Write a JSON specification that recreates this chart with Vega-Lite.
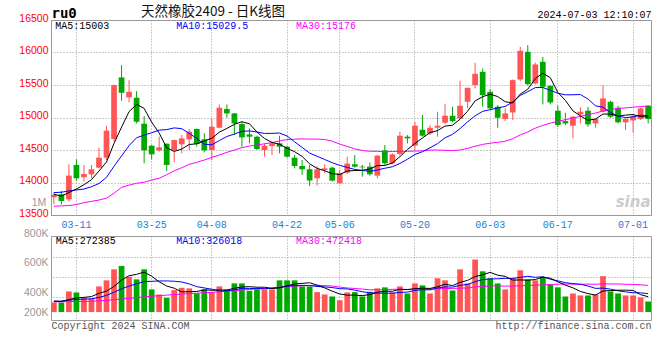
{
  "$schema": "https://vega.github.io/schema/vega-lite/v6.json",
  "background": "white",
  "padding": {"left": 18, "top": 4, "right": 5, "bottom": 5},
  "bounds": "flush",
  "spacing": 21,
  "config": {
    "view": {"stroke": "#999", "strokeWidth": 1},
    "font": "Liberation Sans",
    "axis": {"gridColor": "#999", "gridDash": [1, 2], "gridWidth": 1, "domain": false, "ticks": false, "titleFontWeight": "normal", "labelOverlap": false, "labelFlush": false, "labelBound": false}
  },
  "datasets": {
    "k": [
      {"d":"03-06","o":13773,"h":13845,"l":13665,"c":13809,"v":169000,"m5":13820,"m10":13845,"m30":13635,"v5":194000,"v10":190000,"v30":180000},
      {"d":"03-07","o":13819,"h":13870,"l":13665,"c":13716,"v":169000,"m5":13790,"m10":13850,"m30":13640,"v5":188000,"v10":194000,"v30":182000},
      {"d":"03-08","o":13742,"h":14280,"l":13706,"c":14106,"v":365000,"m5":13846,"m10":13870,"m30":13645,"v5":221000,"v10":210000,"v30":185000},
      {"d":"03-11","o":14270,"h":14356,"l":14029,"c":14065,"v":347000,"m5":13900,"m10":13885,"m30":13660,"v5":250000,"v10":222000,"v30":187000},
      {"d":"03-12","o":14080,"h":14270,"l":14014,"c":14131,"v":252000,"m5":13965,"m10":13900,"m30":13690,"v5":260000,"v10":230000,"v30":189000},
      {"d":"03-13","o":14126,"h":14270,"l":14065,"c":14203,"v":241000,"m5":14044,"m10":13935,"m30":13710,"v5":275000,"v10":234000,"v30":192000},
      {"d":"03-14","o":14228,"h":14536,"l":14218,"c":14382,"v":454000,"m5":14177,"m10":13985,"m30":13730,"v5":332000,"v10":259000,"v30":198000},
      {"d":"03-15","o":14382,"h":14874,"l":14346,"c":14797,"v":561000,"m5":14316,"m10":14080,"m30":13760,"v5":371000,"v10":295000,"v30":207000},
      {"d":"03-18","o":14669,"h":15508,"l":14628,"c":15498,"v":756000,"m5":14602,"m10":14250,"m30":13835,"v5":453000,"v10":351000,"v30":218000},
      {"d":"03-19","o":15616,"h":15805,"l":15258,"c":15380,"v":816000,"m5":14852,"m10":14409,"m30":13925,"v5":566000,"v10":413000,"v30":230000},
      {"d":"03-20","o":15309,"h":15575,"l":15232,"c":15396,"v":626000,"m5":15091,"m10":14567,"m30":13960,"v5":643000,"v10":459000,"v30":242000},
      {"d":"03-21","o":15304,"h":15406,"l":14909,"c":14935,"v":578000,"m5":15201,"m10":14689,"m30":13988,"v5":667000,"v10":500000,"v30":256000},
      {"d":"03-22","o":14904,"h":15022,"l":14295,"c":14495,"v":756000,"m5":15141,"m10":14728,"m30":14003,"v5":706000,"v10":539000,"v30":270000},
      {"d":"03-25","o":14566,"h":14577,"l":14356,"c":14433,"v":401000,"m5":14928,"m10":14765,"m30":14039,"v5":635000,"v10":544000,"v30":280000},
      {"d":"03-26","o":14495,"h":14705,"l":14474,"c":14541,"v":312000,"m5":14760,"m10":14806,"m30":14065,"v5":535000,"v10":550000,"v30":290000},
      {"d":"03-27","o":14597,"h":14600,"l":14177,"c":14270,"v":252000,"m5":14535,"m10":14813,"m30":14120,"v5":460000,"v10":551000,"v30":300000},
      {"d":"03-28","o":14500,"h":14660,"l":14310,"c":14653,"v":389000,"m5":14478,"m10":14840,"m30":14180,"v5":422000,"v10":545000,"v30":310000},
      {"d":"03-29","o":14587,"h":14730,"l":14449,"c":14679,"v":430000,"m5":14515,"m10":14828,"m30":14228,"v5":357000,"v10":532000,"v30":318000},
      {"d":"04-01","o":14664,"h":14823,"l":14500,"c":14782,"v":419000,"m5":14585,"m10":14756,"m30":14280,"v5":360000,"v10":498000,"v30":326000},
      {"d":"04-02","o":14823,"h":14830,"l":14551,"c":14592,"v":329000,"m5":14595,"m10":14678,"m30":14310,"v5":364000,"v10":449000,"v30":334000},
      {"d":"04-03","o":14664,"h":14756,"l":14464,"c":14495,"v":401000,"m5":14640,"m10":14588,"m30":14346,"v5":394000,"v10":427000,"v30":342000},
      {"d":"04-08","o":14500,"h":14986,"l":14346,"c":14858,"v":353000,"m5":14681,"m10":14580,"m30":14387,"v5":386000,"v10":404000,"v30":350000},
      {"d":"04-09","o":14843,"h":15201,"l":14833,"c":15150,"v":454000,"m5":14775,"m10":14645,"m30":14423,"v5":391000,"v10":374000,"v30":358000},
      {"d":"04-10","o":15130,"h":15201,"l":14996,"c":15063,"v":401000,"m5":14832,"m10":14708,"m30":14464,"v5":388000,"v10":374000,"v30":368000},
      {"d":"04-11","o":15063,"h":15070,"l":14730,"c":14909,"v":507000,"m5":14895,"m10":14745,"m30":14500,"v5":423000,"v10":394000,"v30":378000},
      {"d":"04-12","o":14899,"h":14935,"l":14551,"c":14694,"v":507000,"m5":14935,"m10":14788,"m30":14536,"v5":444000,"v10":419000,"v30":390000},
      {"d":"04-15","o":14740,"h":14833,"l":14602,"c":14705,"v":377000,"m5":14904,"m10":14793,"m30":14561,"v5":449000,"v10":418000,"v30":400000},
      {"d":"04-16","o":14705,"h":14720,"l":14500,"c":14515,"v":401000,"m5":14777,"m10":14776,"m30":14577,"v5":439000,"v10":415000,"v30":410000},
      {"d":"04-17","o":14500,"h":14602,"l":14397,"c":14566,"v":401000,"m5":14678,"m10":14755,"m30":14595,"v5":439000,"v10":413000,"v30":420000},
      {"d":"04-18","o":14561,"h":14628,"l":14423,"c":14602,"v":401000,"m5":14616,"m10":14756,"m30":14614,"v5":417000,"v10":420000,"v30":428000},
      {"d":"04-19","o":14602,"h":14720,"l":14449,"c":14551,"v":561000,"m5":14588,"m10":14761,"m30":14639,"v5":428000,"v10":436000,"v30":441000},
      {"d":"04-22","o":14551,"h":14566,"l":14382,"c":14397,"v":561000,"m5":14526,"m10":14715,"m30":14661,"v5":465000,"v10":457000,"v30":454000},
      {"d":"04-23","o":14382,"h":14423,"l":14218,"c":14254,"v":561000,"m5":14474,"m10":14626,"m30":14666,"v5":497000,"v10":468000,"v30":460000},
      {"d":"04-24","o":14254,"h":14346,"l":14116,"c":14203,"v":454000,"m5":14401,"m10":14540,"m30":14671,"v5":508000,"v10":473000,"v30":464000},
      {"d":"04-25","o":14203,"h":14270,"l":13947,"c":14029,"v":454000,"m5":14287,"m10":14452,"m30":14668,"v5":518000,"v10":468000,"v30":470000},
      {"d":"04-26","o":14065,"h":14254,"l":13952,"c":14203,"v":353000,"m5":14217,"m10":14403,"m30":14668,"v5":477000,"v10":452000,"v30":474000},
      {"d":"04-29","o":14193,"h":14280,"l":14141,"c":14218,"v":312000,"m5":14181,"m10":14354,"m30":14662,"v5":427000,"v10":446000,"v30":469000},
      {"d":"04-30","o":14228,"h":14244,"l":14014,"c":14029,"v":276000,"m5":14136,"m10":14305,"m30":14637,"v5":370000,"v10":433000,"v30":460000},
      {"d":"05-06","o":13988,"h":14193,"l":13978,"c":14142,"v":209000,"m5":14124,"m10":14263,"m30":14591,"v5":321000,"v10":414000,"v30":442000},
      {"d":"05-07","o":14152,"h":14397,"l":14126,"c":14290,"v":347000,"m5":14176,"m10":14232,"m30":14555,"v5":299000,"v10":409000,"v30":426000},
      {"d":"05-08","o":14280,"h":14423,"l":14228,"c":14244,"v":353000,"m5":14185,"m10":14201,"m30":14517,"v5":299000,"v10":388000,"v30":417000},
      {"d":"05-09","o":14244,"h":14270,"l":14090,"c":14234,"v":276000,"m5":14188,"m10":14185,"m30":14493,"v5":292000,"v10":360000,"v30":407000},
      {"d":"05-10","o":14244,"h":14305,"l":14106,"c":14126,"v":359000,"m5":14207,"m10":14172,"m30":14481,"v5":309000,"v10":339000,"v30":394000},
      {"d":"05-13","o":14106,"h":14423,"l":14065,"c":14413,"v":419000,"m5":14261,"m10":14193,"m30":14480,"v5":351000,"v10":336000,"v30":394000},
      {"d":"05-14","o":14495,"h":14577,"l":14270,"c":14295,"v":437000,"m5":14262,"m10":14219,"m30":14472,"v5":369000,"v10":334000,"v30":398000},
      {"d":"05-15","o":14295,"h":14449,"l":14280,"c":14433,"v":347000,"m5":14300,"m10":14242,"m30":14477,"v5":368000,"v10":334000,"v30":402000},
      {"d":"05-16","o":14439,"h":14782,"l":14413,"c":14720,"v":454000,"m5":14397,"m10":14293,"m30":14480,"v5":403000,"v10":348000,"v30":404000},
      {"d":"05-17","o":14705,"h":14730,"l":14602,"c":14679,"v":329000,"m5":14508,"m10":14358,"m30":14480,"v5":397000,"v10":353000,"v30":400000},
      {"d":"05-20","o":14566,"h":14935,"l":14500,"c":14874,"v":507000,"m5":14600,"m10":14431,"m30":14483,"v5":415000,"v10":383000,"v30":403000},
      {"d":"05-21","o":14812,"h":15037,"l":14705,"c":14720,"v":472000,"m5":14685,"m10":14474,"m30":14487,"v5":422000,"v10":395000,"v30":408000},
      {"d":"05-22","o":14756,"h":14884,"l":14730,"c":14843,"v":329000,"m5":14767,"m10":14534,"m30":14499,"v5":418000,"v10":393000,"v30":406000},
      {"d":"05-23","o":14843,"h":15089,"l":14705,"c":14874,"v":597000,"m5":14798,"m10":14598,"m30":14499,"v5":447000,"v10":425000,"v30":414000},
      {"d":"05-24","o":14920,"h":15212,"l":14899,"c":15027,"v":561000,"m5":14868,"m10":14688,"m30":14495,"v5":493000,"v10":445000,"v30":417000},
      {"d":"05-27","o":15027,"h":15165,"l":14925,"c":14945,"v":382000,"m5":14882,"m10":14741,"m30":14491,"v5":468000,"v10":442000,"v30":417000},
      {"d":"05-28","o":14986,"h":15565,"l":14976,"c":15181,"v":756000,"m5":14974,"m10":14830,"m30":14500,"v5":525000,"v10":473000,"v30":425000},
      {"d":"05-29","o":15242,"h":15460,"l":15140,"c":15457,"v":507000,"m5":15097,"m10":14932,"m30":14526,"v5":561000,"v10":489000,"v30":425000},
      {"d":"05-30","o":15498,"h":15841,"l":15447,"c":15672,"v":929000,"m5":15256,"m10":15027,"m30":14558,"v5":627000,"v10":537000,"v30":444000},
      {"d":"05-31","o":15703,"h":15754,"l":15165,"c":15345,"v":721000,"m5":15320,"m10":15094,"m30":14586,"v5":659000,"v10":576000,"v30":454000},
      {"d":"06-03","o":15396,"h":15437,"l":15130,"c":15140,"v":597000,"m5":15359,"m10":15120,"m30":14605,"v5":702000,"v10":585000,"v30":461000},
      {"d":"06-04","o":15165,"h":15191,"l":14843,"c":14996,"v":507000,"m5":15322,"m10":15148,"m30":14618,"v5":652000,"v10":589000,"v30":464000},
      {"d":"06-05","o":14976,"h":15140,"l":14945,"c":15063,"v":401000,"m5":15243,"m10":15170,"m30":14635,"v5":631000,"v10":596000,"v30":459000},
      {"d":"06-06","o":15078,"h":15585,"l":14961,"c":15575,"v":597000,"m5":15224,"m10":15240,"m30":14674,"v5":565000,"v10":596000,"v30":460000},
      {"d":"06-07","o":15585,"h":16087,"l":15560,"c":16026,"v":739000,"m5":15360,"m10":15340,"m30":14733,"v5":568000,"v10":614000,"v30":466000},
      {"d":"06-11","o":16010,"h":16113,"l":15488,"c":15514,"v":578000,"m5":15435,"m10":15397,"m30":14777,"v5":564000,"v10":633000,"v30":470000},
      {"d":"06-12","o":15524,"h":15846,"l":15508,"c":15816,"v":561000,"m5":15599,"m10":15460,"m30":14836,"v5":575000,"v10":614000,"v30":474000},
      {"d":"06-13","o":15857,"h":15933,"l":15201,"c":15473,"v":615000,"m5":15681,"m10":15462,"m30":14879,"v5":618000,"v10":625000,"v30":482000},
      {"d":"06-14","o":15488,"h":15498,"l":15201,"c":15232,"v":490000,"m5":15612,"m10":15418,"m30":14913,"v5":597000,"v10":581000,"v30":488000},
      {"d":"06-17","o":15104,"h":15181,"l":14858,"c":14884,"v":437000,"m5":15384,"m10":15372,"m30":14941,"v5":536000,"v10":552000,"v30":494000},
      {"d":"06-18","o":14945,"h":15073,"l":14884,"c":14909,"v":276000,"m5":15263,"m10":15349,"m30":14967,"v5":476000,"v10":520000,"v30":496000},
      {"d":"06-19","o":14874,"h":15022,"l":14679,"c":15012,"v":329000,"m5":15102,"m10":15350,"m30":14991,"v5":429000,"v10":502000,"v30":495000},
      {"d":"06-20","o":15048,"h":15155,"l":14909,"c":15089,"v":294000,"m5":15025,"m10":15353,"m30":15019,"v5":365000,"v10":492000,"v30":493000},
      {"d":"06-21","o":15104,"h":15165,"l":14858,"c":14894,"v":294000,"m5":14958,"m10":15285,"m30":15041,"v5":326000,"v10":461000,"v30":494000},
      {"d":"06-24","o":14909,"h":14986,"l":14843,"c":14976,"v":312000,"m5":14976,"m10":15180,"m30":15069,"v5":301000,"v10":419000,"v30":492000},
      {"d":"06-25","o":15089,"h":15498,"l":15078,"c":15294,"v":635000,"m5":15053,"m10":15158,"m30":15099,"v5":373000,"v10":424000,"v30":500000},
      {"d":"06-26","o":15242,"h":15258,"l":14996,"c":15012,"v":365000,"m5":15053,"m10":15078,"m30":15123,"v5":380000,"v10":405000,"v30":497000},
      {"d":"06-27","o":15150,"h":15181,"l":14909,"c":14925,"v":329000,"m5":15020,"m10":15023,"m30":15139,"v5":387000,"v10":376000,"v30":497000},
      {"d":"06-28","o":14925,"h":14986,"l":14807,"c":14976,"v":294000,"m5":15037,"m10":14997,"m30":15148,"v5":387000,"v10":357000,"v30":491000},
      {"d":"07-01","o":14955,"h":15043,"l":14766,"c":15017,"v":294000,"m5":15045,"m10":15010,"m30":15159,"v5":383000,"v10":342000,"v30":490000},
      {"d":"07-02","o":14976,"h":15150,"l":14961,"c":15140,"v":258000,"m5":15014,"m10":15034,"m30":15168,"v5":308000,"v10":340000,"v30":482000},
      {"d":"07-03","o":15181,"h":15191,"l":14909,"c":14976,"v":187000,"m5":15007,"m10":15030,"m30":15176,"v5":272000,"v10":326000,"v30":472000}
    ]
  },
  "data": {"name": "k"},
  "vconcat": [
    {
      "width": 600,
      "height": 195,
      "title": {"text": "天然橡胶2409 - 日K线图", "anchor": "start", "frame": "group", "dx": 90, "offset": -23, "baseline": "alphabetic", "font": "Noto Sans CJK SC", "fontSize": 13.5, "fontWeight": "normal", "color": "#111"},
      "layer": [
        {
          "mark": {"type": "rule", "strokeWidth": 1},
          "encoding": {
            "x": {"field": "d", "type": "ordinal", "scale": {"type": "band", "paddingInner": 0.24, "paddingOuter": 0},
              "axis": {"values": ["03-11","03-25","04-08","04-22","05-06","05-20","06-03","06-17","07-01"], "grid": true, "labelAngle": 0, "labelColor": "#1e7fd0", "labelFont": "Liberation Mono", "labelFontSize": 10, "labelPadding": 4,
                "title": "2024-07-03 12:10:07", "titleX": 600, "titleY": -198, "titleAlign": "right", "titleBaseline": "alphabetic", "titleFont": "Liberation Mono", "titleFontSize": 10, "titleColor": "#000"}},
            "y": {"field": "l", "type": "quantitative", "scale": {"domain": [13500, 16500], "nice": false, "zero": false},
              "axis": {"orient": "left", "values": [13500, 14000, 14500, 15000, 15500, 16000, 16500], "format": "d", "grid": true, "labelOverlap": false,
                "labelColor": "#ff0000", "labelFontSize": 10.5, "labelPadding": 3, "labelOffset": -2,
                "title": "ru0", "titleAngle": 0, "titleX": 0, "titleY": -3, "titleAlign": "left", "titleBaseline": "alphabetic", "titleFont": "DejaVu Sans Mono", "titleFontSize": 14, "titleFontWeight": "bold", "titleColor": "#000"}},
            "y2": {"field": "h"},
            "color": {"condition": {"test": "datum.c >= datum.o", "value": "#ff5555"}, "value": "#00a800"}
          }
        },
        {
          "mark": {"type": "bar"},
          "encoding": {
            "x": {"field": "d", "type": "ordinal"},
            "y": {"field": "o", "type": "quantitative", "scale": {"domain": [13500, 16500], "nice": false, "zero": false}, "axis": null},
            "y2": {"field": "c"},
            "color": {"condition": {"test": "datum.c >= datum.o", "value": "#ff5555"}, "value": "#00a800"}
          }
        },
        {
          "mark": {"type": "line", "color": "#ff00ff", "strokeWidth": 1},
          "encoding": {"x": {"field": "d", "type": "ordinal"}, "y": {"field": "m30", "type": "quantitative", "scale": {"domain": [13500, 16500], "nice": false, "zero": false}, "axis": null}}
        },
        {
          "mark": {"type": "line", "color": "#0000ff", "strokeWidth": 1},
          "encoding": {"x": {"field": "d", "type": "ordinal"}, "y": {"field": "m10", "type": "quantitative", "scale": {"domain": [13500, 16500], "nice": false, "zero": false}, "axis": null}}
        },
        {
          "mark": {"type": "line", "color": "#000000", "strokeWidth": 1},
          "encoding": {"x": {"field": "d", "type": "ordinal"}, "y": {"field": "m5", "type": "quantitative", "scale": {"domain": [13500, 16500], "nice": false, "zero": false}, "axis": null}}
        },
        {
          "data": {"values": [{}]},
          "mark": {"type": "text", "text": "sina", "font": "DejaVu Sans", "fontSize": 15, "fontWeight": "bold", "fontStyle": "italic", "color": "#cccccc", "baseline": "middle", "align": "center"},
          "encoding": {"x": {"datum": "07-01", "type": "ordinal"}, "y": {"datum": 13700, "type": "quantitative", "axis": null}}
        },
        {
          "data": {"values": [{}]},
          "mark": {"type": "text", "text": "1M", "font": "Liberation Sans", "fontSize": 10.5, "color": "#999999", "align": "right", "baseline": "middle", "dx": -7.5},
          "encoding": {"x": {"datum": "03-06", "type": "ordinal"}, "y": {"datum": 13690, "type": "quantitative", "axis": null}}
        },
        {
          "data": {"values": [{}]},
          "mark": {"type": "text", "text": "MA5:15003", "font": "Liberation Mono", "fontSize": 10, "color": "#000000", "align": "left", "baseline": "middle", "dx": 1.5, "dy": 6},
          "encoding": {"x": {"datum": "03-06", "type": "ordinal"}, "y": {"datum": 16500, "type": "quantitative", "axis": null}}
        },
        {
          "data": {"values": [{}]},
          "mark": {"type": "text", "text": "MA10:15029.5", "font": "Liberation Mono", "fontSize": 10, "color": "#0000ff", "align": "left", "baseline": "middle", "dx": 2, "dy": 6},
          "encoding": {"x": {"datum": "03-28", "type": "ordinal"}, "y": {"datum": 16500, "type": "quantitative", "axis": null}}
        },
        {
          "data": {"values": [{}]},
          "mark": {"type": "text", "text": "MA30:15176", "font": "Liberation Mono", "fontSize": 10, "color": "#ff00ff", "align": "left", "baseline": "middle", "dx": 1.5, "dy": 6},
          "encoding": {"x": {"datum": "04-23", "type": "ordinal"}, "y": {"datum": 16500, "type": "quantitative", "axis": null}}
        }
      ],
      "resolve": {"axis": {"y": "independent"}}
    },
    {
      "width": 600,
      "height": 84,
      "layer": [
        {
          "mark": {"type": "bar"},
          "encoding": {
            "x": {"field": "d", "type": "ordinal", "scale": {"type": "band", "paddingInner": 0.24, "paddingOuter": 0},
              "axis": {"values": ["03-11","03-25","04-08","04-22","05-06","05-20","06-03","06-17","07-01"], "grid": true, "labels": false,
                "title": "Copyright 2024 SINA.COM", "titleX": 0, "titleY": 8, "titleAlign": "left", "titleBaseline": "alphabetic", "titleFont": "Liberation Mono", "titleFontSize": 10, "titleColor": "#555555"}},
            "y": {"field": "v", "type": "quantitative", "scale": {"domain": [-140000, 1345000], "nice": false, "zero": false},
              "axis": {"orient": "right", "values": [267000, 621000, 974000], "grid": true, "labels": false,
                "title": "http://finance.sina.com.cn", "titleAngle": 0, "titleX": 0, "titleY": 92, "titleAlign": "right", "titleBaseline": "alphabetic", "titleFont": "Liberation Mono", "titleFontSize": 10, "titleColor": "#555555"}},
            "y2": {"datum": 0},
            "color": {"condition": {"test": "datum.c >= datum.o", "value": "#ff5555"}, "value": "#00a800"}
          }
        },
        {
          "mark": {"type": "line", "color": "#ff00ff", "strokeWidth": 1},
          "encoding": {"x": {"field": "d", "type": "ordinal"}, "y": {"field": "v30", "type": "quantitative", "scale": {"domain": [-140000, 1345000], "nice": false, "zero": false},
            "axis": {"orient": "left", "values": [0, 343000, 873000, 1345000], "grid": false, "labelOverlap": false,
              "labelExpr": "datum.value <= 0 ? '200K' : datum.value < 500000 ? '400K' : datum.value < 1000000 ? '600K' : '800K'",
              "labelColor": "#999999", "labelFontSize": 10.5, "labelPadding": 3,
              "labelOffset": {"condition": {"test": "datum.value > 1000000", "value": -3}, "value": 0}, "title": null}}}
        },
        {
          "mark": {"type": "line", "color": "#0000ff", "strokeWidth": 1},
          "encoding": {"x": {"field": "d", "type": "ordinal"}, "y": {"field": "v10", "type": "quantitative", "scale": {"domain": [-140000, 1345000], "nice": false, "zero": false}, "axis": null}}
        },
        {
          "mark": {"type": "line", "color": "#000000", "strokeWidth": 1},
          "encoding": {"x": {"field": "d", "type": "ordinal"}, "y": {"field": "v5", "type": "quantitative", "scale": {"domain": [-140000, 1345000], "nice": false, "zero": false}, "axis": null}}
        },
        {
          "data": {"values": [{}]},
          "mark": {"type": "text", "text": "MA5:272385", "font": "Liberation Mono", "fontSize": 10, "color": "#000000", "align": "left", "baseline": "middle", "dx": 2, "dy": 4.5},
          "encoding": {"x": {"datum": "03-06", "type": "ordinal"}, "y": {"datum": 1345000, "type": "quantitative", "axis": null}}
        },
        {
          "data": {"values": [{}]},
          "mark": {"type": "text", "text": "MA10:326018", "font": "Liberation Mono", "fontSize": 10, "color": "#0000ff", "align": "left", "baseline": "middle", "dx": 2, "dy": 4.5},
          "encoding": {"x": {"datum": "03-28", "type": "ordinal"}, "y": {"datum": 1345000, "type": "quantitative", "axis": null}}
        },
        {
          "data": {"values": [{}]},
          "mark": {"type": "text", "text": "MA30:472418", "font": "Liberation Mono", "fontSize": 10, "color": "#ff00ff", "align": "left", "baseline": "middle", "dx": 1.5, "dy": 4.5},
          "encoding": {"x": {"datum": "04-23", "type": "ordinal"}, "y": {"datum": 1345000, "type": "quantitative", "axis": null}}
        }
      ],
      "resolve": {"axis": {"y": "independent"}}
    }
  ]
}
